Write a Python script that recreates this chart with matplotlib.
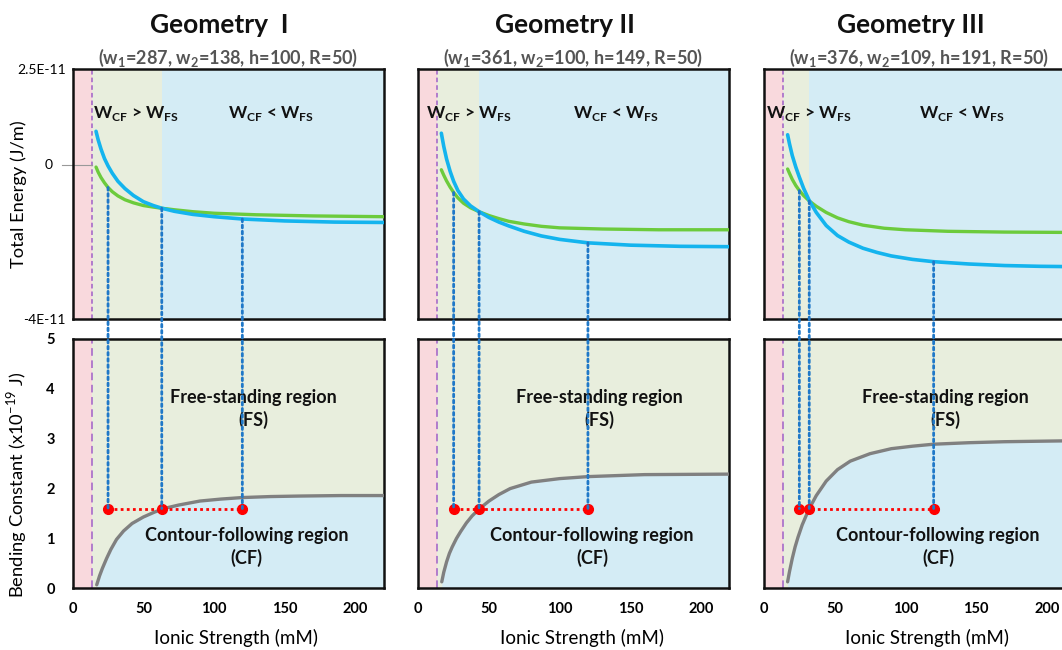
import matplotlib
matplotlib.use('Agg')
import matplotlib.pyplot as plt
from matplotlib.patches import ConnectionPatch

plt.rcParams['font.family'] = ['Lato', 'DejaVu Sans']
plt.rcParams['mathtext.fontset'] = 'custom'
plt.rcParams['mathtext.rm'] = 'Lato'
plt.rcParams['mathtext.bf'] = 'Lato:bold'

# ---- data ----
titles = ['Geometry  I', 'Geometry II', 'Geometry III']
params = [r'(w$_\mathbf{1}$=287, w$_\mathbf{2}$=138, h=100, R=50)',
          r'(w$_\mathbf{1}$=361, w$_\mathbf{2}$=100, h=149, R=50)',
          r'(w$_\mathbf{1}$=376, w$_\mathbf{2}$=109, h=191, R=50)']

debye_limit = 13.5   # dashed purple line (mM)

# total energy, units of 1e-11 J/m
cf_x = [
    [16.5, 18, 20, 22.5, 25, 28, 32, 37, 43, 50, 57, 63, 72, 85, 100, 120, 150, 185, 220],
    [16.3, 18, 20, 22.5, 25, 28, 32, 37, 43, 50, 57, 64, 75, 87, 100, 120, 150, 185, 220],
    [16.7, 18, 20, 22.5, 25, 28, 32, 37, 44, 52, 60, 70, 80, 90, 105, 120, 145, 170, 195, 220],
]
cf_e = [
    [0.88, 0.66, 0.42, 0.17, -0.02, -0.21, -0.42, -0.61, -0.79, -0.95, -1.05, -1.12, -1.2, -1.28, -1.34, -1.4, -1.45, -1.48, -1.49],
    [0.83, 0.49, 0.16, -0.16, -0.42, -0.66, -0.88, -1.06, -1.21, -1.36, -1.48, -1.58, -1.72, -1.84, -1.93, -2.02, -2.08, -2.11, -2.12],
    [0.79, 0.56, 0.25, -0.05, -0.31, -0.6, -0.92, -1.23, -1.57, -1.83, -2.0, -2.16, -2.27, -2.36, -2.45, -2.51, -2.57, -2.61, -2.63, -2.64],
]
fs_x = [
    [16.5, 18, 20, 22.5, 25, 28, 32, 37, 43, 50, 57, 63, 72, 85, 100, 130, 170, 220],
    [16.3, 18, 20, 22.5, 25, 28, 32, 37, 43, 50, 57, 64, 75, 87, 100, 130, 170, 220],
    [16.7, 18, 20, 22.5, 25, 28, 32, 37, 44, 52, 60, 70, 85, 100, 130, 170, 220],
]
fs_e = [
    [-0.05, -0.18, -0.32, -0.46, -0.58, -0.69, -0.8, -0.9, -0.98, -1.05, -1.09, -1.12, -1.16, -1.21, -1.25, -1.29, -1.32, -1.34],
    [-0.12, -0.26, -0.41, -0.57, -0.71, -0.85, -0.99, -1.11, -1.21, -1.31, -1.39, -1.46, -1.53, -1.59, -1.63, -1.66, -1.68, -1.68],
    [-0.1, -0.21, -0.37, -0.53, -0.66, -0.79, -0.93, -1.07, -1.23, -1.37, -1.47, -1.56, -1.64, -1.68, -1.72, -1.74, -1.75],
]

# critical bending constant, units of 1e-19 J
kb_x = [
    [17, 19, 21, 24, 27, 31, 36, 42, 50, 58, 66, 75, 90, 105, 120, 140, 160, 190, 220],
    [16.6, 18, 20, 22, 24, 27, 30, 34, 38, 43, 50, 57, 65, 80, 100, 120, 160, 220],
    [16.7, 18, 20, 22, 24, 27, 30, 33, 37, 44, 52, 61, 75, 90, 105, 120, 145, 170, 195, 220],
]
kb_y = [
    [0.07, 0.25, 0.4, 0.6, 0.78, 0.98, 1.15, 1.3, 1.43, 1.53, 1.61, 1.67, 1.75, 1.79, 1.82, 1.84, 1.85, 1.86, 1.86],
    [0.13, 0.32, 0.53, 0.7, 0.83, 1.0, 1.14, 1.31, 1.45, 1.59, 1.75, 1.88, 2.0, 2.13, 2.2, 2.24, 2.28, 2.29],
    [0.13, 0.33, 0.6, 0.83, 1.02, 1.27, 1.47, 1.65, 1.86, 2.15, 2.38, 2.55, 2.7, 2.8, 2.85, 2.89, 2.92, 2.94, 2.95, 2.96],
]

# marked ionic strengths (red dots) and where the dotted links meet the energy curves
mark_x = [[25, 63, 120], [25, 43, 120], [25, 32, 120]]
mark_kb = 1.6
link_e = [[-0.58, -1.12, -1.4], [-0.71, -1.21, -2.02], [-0.66, -0.93, -2.51]]

# ---- style ----
PINK = '#F9D9DD'
OLIVE = '#E8EEDD'
SKY = '#D4ECF5'
BLUE = '#14B4EE'
GREEN = '#6CCB3C'
GRAY = '#808080'
LINK = '#1F78C8'
PURPLE = '#A060C8'

W, H = 1062, 650
fig = plt.figure(figsize=(W / 100, H / 100), dpi=100)

lefts = [72.7, 418.3, 764]
ax_w = 311
top_box = (69, 319)
bot_box = (339, 588.3)
XMAX = 220

gt_x = [45, 36, 32]  # x of "W_CF > W_FS" label per panel


def box(left, ybox):
    return [left / W, 1 - ybox[1] / H, ax_w / W, (ybox[1] - ybox[0]) / H]


for i in range(3):
    ax1 = fig.add_axes(box(lefts[i], top_box))
    ax2 = fig.add_axes(box(lefts[i], bot_box))
    cross = mark_x[i][1]

    # top: energies
    ax1.set_xlim(0, XMAX)
    ax1.set_ylim(-4, 2.5)
    ax1.axvspan(0, debye_limit, color=PINK, lw=0, zorder=0)
    ax1.axvspan(debye_limit, cross, color=OLIVE, lw=0, zorder=0)
    ax1.axvspan(cross, XMAX, color=SKY, lw=0, zorder=0)
    ax1.axvline(debye_limit, color=PURPLE, lw=1.1, ls=(0, (3, 2)), zorder=1)
    ax1.plot(fs_x[i], fs_e[i], color=GREEN, lw=2.4, zorder=3, solid_capstyle='round')
    ax1.plot(cf_x[i], cf_e[i], color=BLUE, lw=2.6, zorder=3, solid_capstyle='round')
    ax1.text(gt_x[i], 1.35, r'W$_\mathbf{CF}$ > W$_\mathbf{FS}$', ha='center', va='center',
             fontsize=12.5, fontweight='bold', color='#111111', zorder=4)
    ax1.text(140, 1.35, r'W$_\mathbf{CF}$ < W$_\mathbf{FS}$', ha='center', va='center',
             fontsize=12.5, fontweight='bold', color='#111111', zorder=4)
    ax1.set_xticks([])
    if i == 0:
        ax1.set_yticks([-4, 2.5])
        ax1.set_yticklabels(['-4E-11', '2.5E-11'], fontsize=10)
        ax1.tick_params(axis='y', length=0, pad=5)
        ax1.text(-0.064, 0, '0', transform=ax1.get_yaxis_transform(), ha='right',
                 va='center', fontsize=10)
        ax1.axhline(0, xmin=-0.034, xmax=debye_limit / XMAX, color='#999999', lw=0.8,
                    clip_on=False, zorder=2)
        ax1.set_ylabel('Total Energy (J/m)', fontsize=13.2)
        ax1.yaxis.set_label_coords(-0.148, 0.5)
    else:
        ax1.set_yticks([])

    # bottom: bending constant
    ax2.set_xlim(0, XMAX)
    ax2.set_ylim(0, 5)
    ax2.axvspan(0, debye_limit, color=PINK, lw=0, zorder=0)
    ax2.axvspan(debye_limit, XMAX, color=OLIVE, lw=0, zorder=0)
    ax2.fill_between(kb_x[i], 0, kb_y[i], color=SKY, lw=0, zorder=0.5)
    ax2.axvline(debye_limit, color=PURPLE, lw=1.1, ls=(0, (5, 3)), zorder=1)
    ax2.plot(kb_x[i], kb_y[i], color=GRAY, lw=2.4, zorder=3, solid_capstyle='round')
    ax2.plot(mark_x[i], [mark_kb] * 3, color='#FF0000', lw=2, ls=(0, (1, 1.2)),
             marker='o', markersize=7, zorder=4)
    ax2.text(128, 3.6, 'Free-standing region\n(FS)', ha='center', va='center',
             fontsize=13, fontweight='bold', color='#111111', linespacing=1.35, zorder=4)
    ax2.text(123, 0.83, 'Contour-following region\n(CF)', ha='center', va='center',
             fontsize=13, fontweight='bold', color='#111111', linespacing=1.35, zorder=4)
    ax2.set_xticks([0, 50, 100, 150, 200])
    ax2.tick_params(axis='x', length=0, pad=10, labelsize=10.5)
    for lab in ax2.get_xticklabels():
        lab.set_fontweight('bold')
    ax2.set_xlabel('Ionic Strength (mM)', fontsize=13.5)
    ax2.xaxis.set_label_coords(0.525, -0.165)
    if i == 0:
        ax2.set_yticks([0, 1, 2, 3, 4, 5])
        ax2.tick_params(axis='y', length=0, pad=13, labelsize=10.5)
        for lab in ax2.get_yticklabels():
            lab.set_fontweight('bold')
        ax2.set_ylabel(r'Bending Constant (x10$^{-19}$ J)', fontsize=13.2)
        ax2.yaxis.set_label_coords(-0.142, 0.415)
    else:
        ax2.set_yticks([])

    for ax in (ax1, ax2):
        for sp in ax.spines.values():
            sp.set_linewidth(1.8)
            sp.set_color('#111111')

    # dotted links between the two panels
    for xm, ye in zip(mark_x[i], link_e[i]):
        con = ConnectionPatch(xyA=(xm, ye), coordsA='data', axesA=ax1,
                              xyB=(xm, mark_kb), coordsB='data', axesB=ax2,
                              color=LINK, lw=2, ls=(0, (1, 1.2)), zorder=5)
        fig.add_artist(con)

    cx = (lefts[i] + 155) / W
    fig.text(cx - 0.008, 1 - 25 / H, titles[i], ha='center', va='center',
             fontsize=19, fontweight='bold', color='#111111')
    fig.text(cx, 1 - 58 / H, params[i], ha='center', va='center',
             fontsize=13, fontweight='bold', color='#555555')

fig.savefig('out.png', dpi=100)
